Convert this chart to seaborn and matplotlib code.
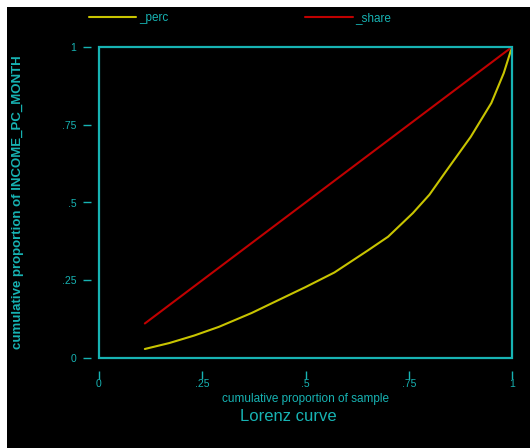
import numpy as np
import pandas as pd
import matplotlib
matplotlib.use('Agg')
import matplotlib.pyplot as plt
from matplotlib.patches import Rectangle
from matplotlib.lines import Line2D
import seaborn as sns

# values
cum_pop = [0.111, 0.17, 0.23, 0.29, 0.37, 0.42, 0.50, 0.57, 0.65, 0.70,
           0.76, 0.80, 0.84, 0.90, 0.95, 0.98, 1.00]
perc = [0.029, 0.048, 0.072, 0.10, 0.145, 0.177, 0.228, 0.275, 0.345, 0.39,
        0.466, 0.525, 0.60, 0.711, 0.82, 0.916, 1.00]
share = [0.111, 0.17, 0.23, 0.29, 0.37, 0.42, 0.50, 0.57, 0.65, 0.70,
         0.76, 0.80, 0.84, 0.90, 0.95, 0.98, 1.00]
series_names = ['_perc', '_share']
tick_vals = [0, 0.25, 0.5, 0.75, 1]
tick_labels = ['0', '.25', '.5', '.75', '1']

CYAN = '#17b3b3'
YELLOW = '#c8c400'
RED = '#c00000'
palette = {'_perc': YELLOW, '_share': RED}

df = pd.concat([
    pd.DataFrame({'x': cum_pop, 'y': perc, 'series': series_names[0]}),
    pd.DataFrame({'x': cum_pop, 'y': share, 'series': series_names[1]}),
], ignore_index=True)

sns.set_style('dark')
plt.rcParams['font.family'] = ['Liberation Sans', 'DejaVu Sans']

fig = plt.figure(figsize=(5.3, 4.48), dpi=100, facecolor='white')
# black graph region, thin white margin on top and left
fig.patches.append(Rectangle((7 / 530, 0), 1, 1 - 7 / 448, transform=fig.transFigure,
                             facecolor='black', edgecolor='none', zorder=-10))
ax = fig.add_axes([99 / 530, 1 - 358 / 448, 413 / 530, 311 / 448])
ax.set_facecolor('black')
ax.grid(False)

sns.lineplot(data=df, x='x', y='y', hue='series', palette=palette,
             linewidth=1.5, ax=ax, sort=False, legend=False)

ax.set_xlim(0, 1)
ax.set_ylim(0, 1)
sns.despine(ax=ax, offset={'left': 5.8, 'bottom': 9.4})
ax.spines['left'].set_visible(False)
ax.spines['bottom'].set_visible(False)
ax.add_patch(Rectangle((0, 0), 1, 1, transform=ax.transAxes, fill=False,
                       edgecolor=CYAN, linewidth=1.6, clip_on=False, zorder=5))

ax.set_xticks(tick_vals, tick_labels)
ax.set_yticks(tick_vals, tick_labels)
ax.tick_params(axis='both', colors=CYAN, labelcolor=CYAN, labelsize=7.5,
               direction='out', length=5.5, width=1.0, left=True, bottom=True)
ax.tick_params(axis='x', pad=0)
ax.tick_params(axis='y', pad=5)

ax.set_xlabel('cumulative proportion of sample', color=CYAN, fontsize=8.5)
ax.xaxis.set_label_coords(0.5, -0.132)
ax.xaxis.label.set_va('center')
ax.set_ylabel('cumulative proportion of INCOME_PC_MONTH', color=CYAN, fontsize=9.5,
              fontweight='bold')
ax.yaxis.set_label_coords(-0.196, 0.5)
ax.yaxis.label.set_va('center')

fig.text(288 / 530, 1 - 416 / 448, 'Lorenz curve', color=CYAN, fontsize=12,
         ha='center', va='center')

# labels start with "_", so hand them to legend explicitly
handles = [Line2D([], [], color=palette[s], linewidth=1.5) for s in series_names]
leg = ax.legend(handles, series_names, loc='center left',
                bbox_to_anchor=(89 / 530, 1 - 18 / 448),
                bbox_transform=fig.transFigure, ncol=2, frameon=False, fontsize=8.5,
                handlelength=4.0, handletextpad=0.25, columnspacing=11.6,
                borderaxespad=0, borderpad=0)
for t in leg.get_texts():
    t.set_color(CYAN)

fig.savefig('out.png', dpi=100, facecolor=fig.get_facecolor())
